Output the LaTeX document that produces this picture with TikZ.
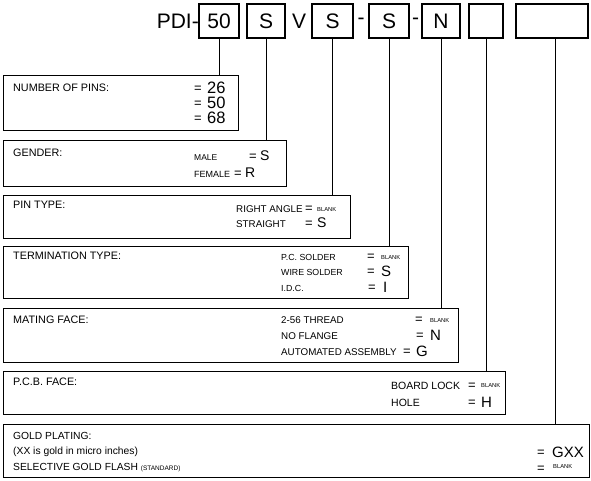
\documentclass[tikz,border=0pt]{standalone}
\usepackage{fontspec}
\setmainfont{Liberation Sans}
\begin{document}
\begin{tikzpicture}[x=1pt,y=-1pt,
  panel/.style={draw,line width=1.2pt,anchor=north west,inner sep=0pt},
  codebox/.style={draw,line width=1.1pt,minimum height=34pt,inner sep=0pt,font=\fontsize{21}{22}\selectfont},
  code/.style={inner sep=0pt,font=\fontsize{21}{22}\selectfont},
  head/.style={inner sep=0pt,anchor=west,font=\fontsize{10.8}{12}\selectfont},
  lbl/.style={inner sep=0pt,anchor=west,font=\fontsize{9.8}{11}\selectfont},
  eq/.style={inner sep=0pt,anchor=west,font=\fontsize{13}{14}\selectfont},
  big/.style={inner sep=0pt,anchor=west,font=\fontsize{15}{16}\selectfont},
  tiny/.style={inner sep=0pt,anchor=west,font=\fontsize{5.8}{6}\selectfont},
  conn/.style={line width=1pt}]
\useasboundingbox (0,0) rectangle (591,481);
% code row
\node[code,anchor=east] (pdi) at (199,21) {PDI-};
\node[codebox,minimum width=40pt] (c1) at (219,21) {50};
\node[codebox,minimum width=38pt] (c2) at (266,21) {S};
\node[code] (v) at (299,21) {V};
\node[codebox,minimum width=41pt] (c3) at (332.5,21) {S};
\node[code] (d1) at (361,21) {-};
\node[codebox,minimum width=40pt] (c4) at (389,21) {S};
\node[code] (d2) at (415.5,21) {-};
\node[codebox,minimum width=38pt] (c5) at (441,21) {N};
\node[codebox,minimum width=34pt] (c6) at (486,21) {};
\node[codebox,minimum width=72pt] (c7) at (552,21) {};
% panels
\node[panel,minimum width=235pt,minimum height=55pt] (p1) at (3,75) {};
\node[panel,minimum width=283pt,minimum height=46pt] (p2) at (3,140) {};
\node[panel,minimum width=347pt,minimum height=43pt] (p3) at (3,195) {};
\node[panel,minimum width=405pt,minimum height=52pt] (p4) at (3,246) {};
\node[panel,minimum width=455pt,minimum height=54pt] (p5) at (3,308) {};
\node[panel,minimum width=502pt,minimum height=43pt] (p6) at (3,371) {};
\node[panel,minimum width=586pt,minimum height=53pt] (p7) at (3,424) {};
% connectors
\draw[conn] (c1.south) -- (c1.south |- p1.north);
\draw[conn] (c2.south) -- (c2.south |- p2.north);
\draw[conn] (c3.south) -- (c3.south |- p3.north);
\draw[conn] (c4.south) -- (c4.south |- p4.north);
\draw[conn] (c5.south) -- (c5.south |- p5.north);
\draw[conn] (c6.south) -- (c6.south |- p6.north);
\draw[conn] ([xshift=3pt]c7.south) -- ([xshift=3pt]c7.south |- p7.north);
% panel 1
\node[head] (t1) at (13,88) {NUMBER OF PINS:};
\node[eq] (e1a) at (194,89) {=};
\node[big,font=\fontsize{16.5}{17}\selectfont] (v1a) at (207,88) {26};
\node[eq] (e1b) at (194,104) {=};
\node[big,font=\fontsize{16.5}{17}\selectfont] (v1b) at (207,103) {50};
\node[eq] (e1c) at (194,119) {=};
\node[big,font=\fontsize{16.5}{17}\selectfont] (v1c) at (207,118) {68};
% panel 2
\node[head] (t2) at (13,153) {GENDER:};
\node[lbl,font=\fontsize{8.5}{9}\selectfont] (m2a) at (194,158) {MALE};
\node[eq] (e2a) at (249,157) {=};
\node[big,font=\fontsize{14}{15}\selectfont] (v2a) at (260,156) {S};
\node[lbl,font=\fontsize{9}{10}\selectfont] (m2b) at (194,174) {FEMALE};
\node[eq] (e2b) at (234,174) {=};
\node[big,font=\fontsize{14}{15}\selectfont] (v2b) at (245,173) {R};
% panel 3
\node[head] (t3) at (13,205) {PIN TYPE:};
\node[lbl] (m3a) at (236,209) {RIGHT ANGLE};
\node[eq] (e3a) at (305,209) {=};
\node[tiny] (v3a) at (317,210) {BLANK};
\node[lbl] (m3b) at (236,224) {STRAIGHT};
\node[eq] (e3b) at (305,224) {=};
\node[big,font=\fontsize{14}{15}\selectfont] (v3b) at (317,223) {S};
% panel 4
\node[head] (t4) at (13,256) {TERMINATION TYPE:};
\node[lbl,font=\fontsize{8.8}{10}\selectfont] (m4a) at (281,257) {P.C. SOLDER};
\node[eq] (e4a) at (367,257) {=};
\node[tiny] (v4a) at (381,258) {BLANK};
\node[lbl,font=\fontsize{8.8}{10}\selectfont] (m4b) at (281,272) {WIRE SOLDER};
\node[eq] (e4b) at (367,272) {=};
\node[big] (v4b) at (381,271) {S};
\node[lbl,font=\fontsize{8.8}{10}\selectfont] (m4c) at (281,288) {I.D.C.};
\node[eq] (e4c) at (368,288) {=};
\node[big] (v4c) at (383,287) {I};
% panel 5
\node[head] (t5) at (13,320) {MATING FACE:};
\node[lbl] (m5a) at (281,320) {2-56 THREAD};
\node[eq] (e5a) at (415,320) {=};
\node[tiny] (v5a) at (430,321) {BLANK};
\node[lbl] (m5b) at (281,336) {NO FLANGE};
\node[eq] (e5b) at (416,336) {=};
\node[big] (v5b) at (430,335) {N};
\node[lbl] (m5c) at (281,352) {AUTOMATED ASSEMBLY};
\node[eq] (e5c) at (403,352) {=};
\node[big] (v5c) at (416,351) {G};
% panel 6
\node[head] (t6) at (13,382) {P.C.B. FACE:};
\node[lbl,font=\fontsize{10.5}{12}\selectfont] (m6a) at (391,386) {BOARD LOCK};
\node[eq] (e6a) at (468,386) {=};
\node[tiny] (v6a) at (481,386) {BLANK};
\node[lbl,font=\fontsize{10.5}{12}\selectfont] (m6b) at (391,403) {HOLE};
\node[eq] (e6b) at (468,403) {=};
\node[big] (v6b) at (481,402) {H};
% panel 7
\node[head,font=\fontsize{10.3}{12}\selectfont] (t7a) at (13,436) {GOLD PLATING:};
\node[head,font=\fontsize{10.3}{12}\selectfont] (t7b) at (13,452) {(XX is gold in micro inches)};
\node[eq] (e7a) at (537,453) {=};
\node[big] (v7a) at (552,452) {GXX};
\node[head,font=\fontsize{10.3}{12}\selectfont] (t7c) at (13,468) {SELECTIVE GOLD FLASH {\fontsize{6.5}{7}\selectfont(STANDARD)}};
\node[eq] (e7b) at (537,469) {=};
\node[tiny] (v7b) at (553,467) {BLANK};
\end{tikzpicture}
\end{document}
